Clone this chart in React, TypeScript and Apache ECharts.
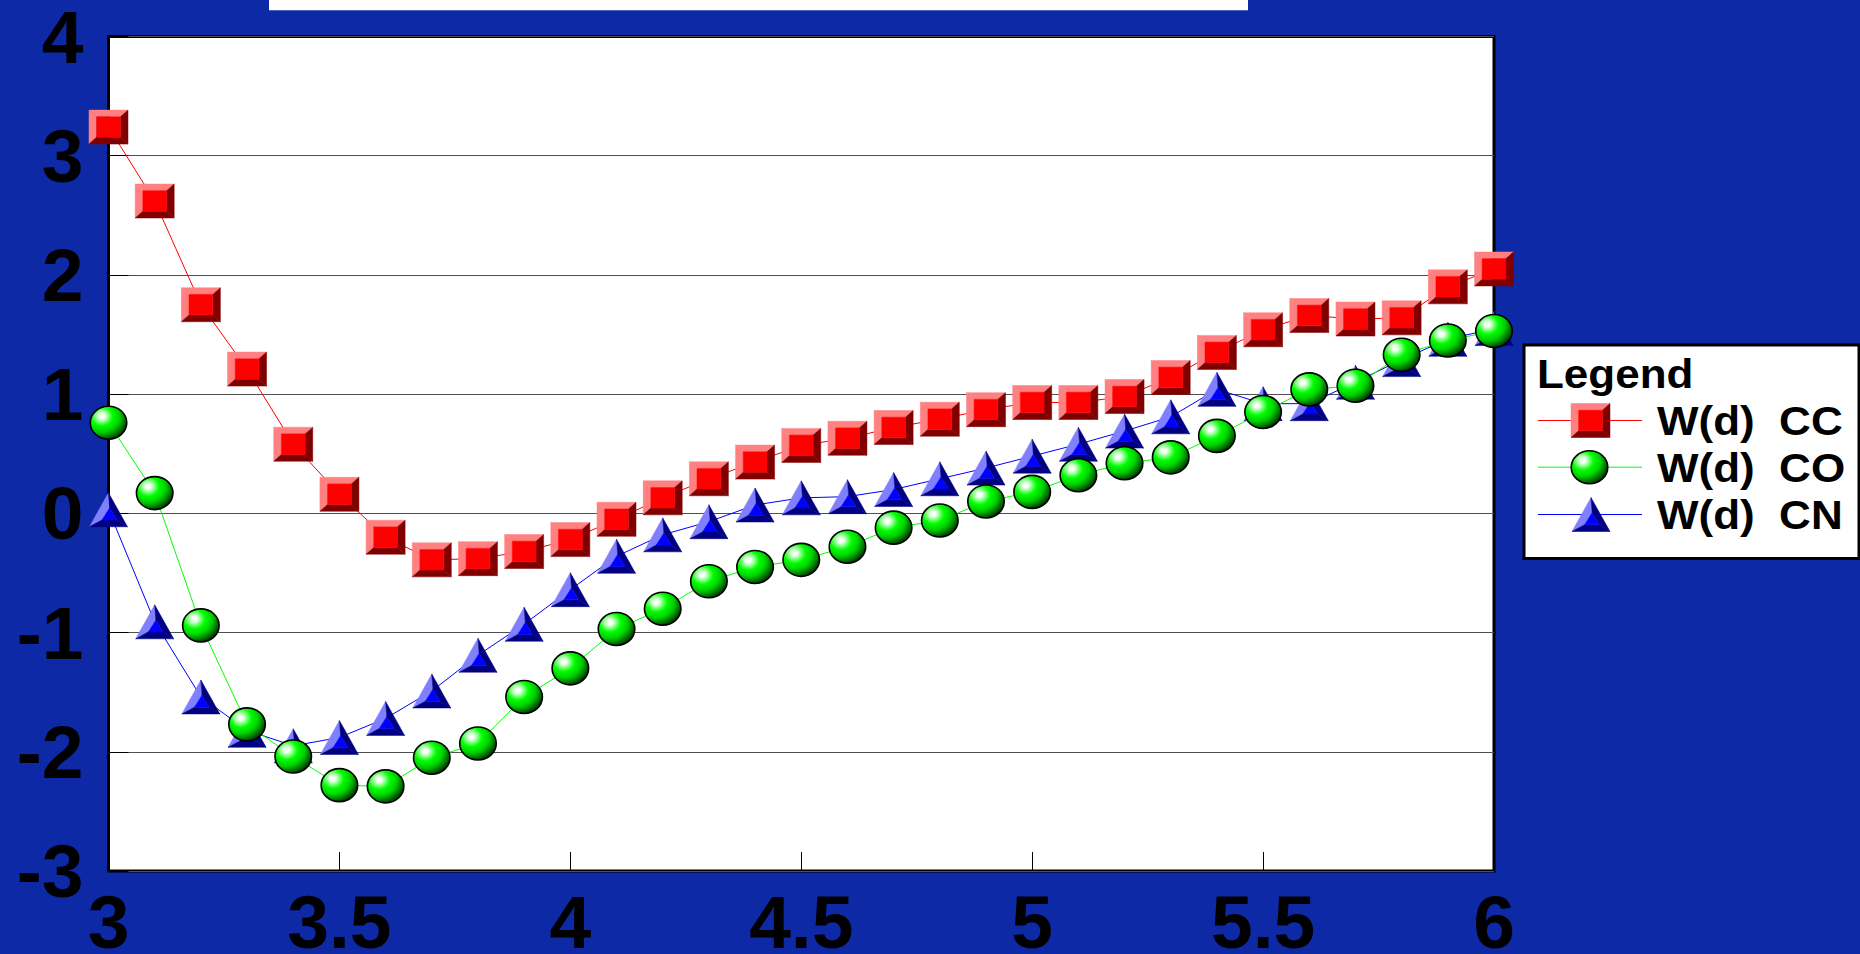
import React, { useEffect, useRef } from "react";
import * as echarts from "echarts";

// ---- data ----
const X_VALUES = [3.0, 3.1, 3.2, 3.3, 3.4, 3.5, 3.6, 3.7, 3.8, 3.9, 4.0, 4.1, 4.2, 4.3, 4.4, 4.5, 4.6, 4.7, 4.8, 4.9, 5.0, 5.1, 5.2, 5.3, 5.4, 5.5, 5.6, 5.7, 5.8, 5.9, 6.0];
const W_CC = [3.24, 2.62, 1.75, 1.21, 0.58, 0.16, -0.2, -0.39, -0.38, -0.32, -0.22, -0.05, 0.13, 0.29, 0.43, 0.57, 0.63, 0.72, 0.79, 0.87, 0.93, 0.93, 0.98, 1.14, 1.35, 1.54, 1.66, 1.63, 1.64, 1.9, 2.05];
const W_CO = [0.76, 0.17, -0.94, -1.77, -2.04, -2.28, -2.29, -2.05, -1.93, -1.54, -1.3, -0.97, -0.8, -0.57, -0.45, -0.39, -0.28, -0.12, -0.06, 0.1, 0.18, 0.32, 0.42, 0.47, 0.65, 0.85, 1.04, 1.07, 1.33, 1.45, 1.53];
const W_CN = [0.03, -0.91, -1.54, -1.82, -1.95, -1.88, -1.72, -1.49, -1.19, -0.93, -0.64, -0.36, -0.18, -0.07, 0.07, 0.13, 0.14, 0.2, 0.29, 0.38, 0.48, 0.58, 0.69, 0.81, 1.04, 0.92, 0.92, 1.1, 1.29, 1.46, 1.55];
const SERIES_NAMES = ["W(d)  CC", "W(d)  CO", "W(d)  CN"];
const LEGEND_TITLE = "Legend";
const X_MIN = 3, X_MAX = 6, X_STEP = 0.5;
const Y_MIN = -3, Y_MAX = 4, Y_STEP = 1;

// ---- styles ----
const BG = "#0d29a6";
const FONT = "'Liberation Sans', Arial, Helvetica, sans-serif";

type Pt = number[];
const poly = (points: Pt[], fill: string) => ({
  type: "polygon",
  shape: { points },
  style: { fill, stroke: fill, lineWidth: 0.5 },
});

function squareShapes(cx: number, cy: number, w = 39, h = 34) {
  const x0 = cx - w / 2, y0 = cy - h / 2;
  const P = (fx: number, fy: number) => [x0 + fx * w, y0 + fy * h];
  const i0 = 0.195, i1 = 0.805, j0 = 0.196, j1 = 0.8;
  return [
    poly([P(0, 0), P(1, 0), P(i1, j0), P(i0, j0)], "#ff8080"),
    poly([P(0, 0), P(i0, j0), P(i0, j1), P(0, 1)], "#ff8080"),
    poly([P(1, 0), P(1, 1), P(i1, j1), P(i1, j0)], "#800000"),
    poly([P(0, 1), P(i0, j1), P(i1, j1), P(1, 1)], "#800000"),
    poly([P(i0, j0), P(i1, j0), P(i1, j1), P(i0, j1)], "#ff0000"),
  ];
}

function triangleShapes(cx: number, cy: number, w = 38, h = 34) {
  const x0 = cx - w / 2, y0 = cy - h / 2;
  const P = (fx: number, fy: number) => [x0 + fx * w, y0 + fy * h];
  const A = P(0.5, 0), B = P(0, 1), C = P(1, 1);
  const a = P(0.53, 0.45), b = P(0.33, 0.8), c = P(0.72, 0.8);
  return [
    poly([A, B, b, a], "#8080ff"),
    poly([A, a, c, C], "#000080"),
    poly([B, C, c, b], "#000080"),
    poly([a, b, c], "#0000ff"),
  ];
}

function sphereShapes(cx: number, cy: number, w = 36.5, h = 33) {
  return [
    {
      type: "ellipse",
      shape: { cx, cy, rx: w / 2, ry: h / 2 },
      style: {
        fill: new echarts.graphic.RadialGradient(0.32, 0.3, 0.78, [
          { offset: 0, color: "#ffffff" },
          { offset: 0.1, color: "#f0fff0" },
          { offset: 0.38, color: "#00ff00" },
          { offset: 0.62, color: "#00d000" },
          { offset: 0.85, color: "#006800" },
          { offset: 1, color: "#002000" },
        ]),
        stroke: "#000000",
        lineWidth: 1.6,
      },
    },
  ];
}

const pairs = (ys: number[]) => X_VALUES.map((x, i) => [x, ys[i]]);

function lineSeries(name: string, ys: number[], color: string, z: number) {
  return {
    name,
    type: "line",
    data: pairs(ys),
    symbol: "none",
    lineStyle: { color, width: 1 },
    itemStyle: { color },
    z,
    silent: true,
  };
}

function markerSeries(name: string, ys: number[], shapeFn: (cx: number, cy: number) => any[], z: number) {
  return {
    name,
    type: "custom",
    data: pairs(ys),
    encode: { x: 0, y: 1 },
    clip: false,
    z,
    silent: true,
    renderItem: (params: any, api: any) => {
      const p = api.coord([api.value(0), api.value(1)]);
      return { type: "group", children: shapeFn(p[0], p[1]) };
    },
  };
}

function legendGraphics() {
  const rows = [
    { ty: 421, ly: 420.5, color: "#ff0000", shapes: squareShapes(1590.5, 420.5) },
    { ty: 468, ly: 467.2, color: "#00ff00", shapes: sphereShapes(1589.5, 467.2) },
    { ty: 515, ly: 514.5, color: "#0000ff", shapes: triangleShapes(1591, 514.5) },
  ];
  const textStyle = (text: string, fontSize: number) => ({
    text,
    fill: "#000",
    fontSize,
    fontWeight: "bold",
    fontFamily: FONT,
    align: "left",
    verticalAlign: "middle",
    textAlign: "left",
    textVerticalAlign: "middle",
  });
  const els: any[] = [
    { type: "rect", shape: { x: 269, y: 0, width: 979, height: 10 }, style: { fill: "#ffffff" }, z: 100 },
    { type: "rect", shape: { x: 269, y: 10, width: 979, height: 1 }, style: { fill: "#4660c4" }, z: 100 },
    {
      type: "rect",
      shape: { x: 1524, y: 345, width: 335, height: 213.5 },
      style: { fill: "#ffffff", stroke: "#000000", lineWidth: 3 },
      z: 100,
    },
    { type: "text", x: 1537, y: 374, scaleX: 1.1, style: textStyle(LEGEND_TITLE, 40), z: 101 },
  ];
  rows.forEach((r, i) => {
    els.push({
      type: "line",
      shape: { x1: 1538, y1: r.ly, x2: 1642, y2: r.ly },
      style: { stroke: r.color, lineWidth: 1 },
      z: 101,
    });
    r.shapes.forEach((s: any) => els.push({ ...s, z: 102 }));
    els.push({ type: "text", x: 1657, y: r.ty, scaleX: 1.1, style: textStyle(SERIES_NAMES[i], 40), z: 102 });
  });
  return els;
}

export default function App() {
  const ref = useRef<HTMLDivElement>(null);
  useEffect(() => {
    document.body.style.margin = "0";
    document.body.style.background = BG;
    if (!ref.current) return;
    const chart = echarts.init(ref.current, undefined, { renderer: "svg" });
    const labelStyle = { color: "#000", fontSize: 75, fontWeight: "bold" as const, fontFamily: FONT };
    chart.setOption({
      animation: false,
      backgroundColor: BG,
      grid: {
        left: 108.5,
        right: 366,
        top: 36.5,
        bottom: 83,
        show: true,
        backgroundColor: "#ffffff",
        borderColor: "#000000",
        borderWidth: 3,
        containLabel: false,
        outerBoundsMode: "none",
      },
      xAxis: {
        type: "value",
        min: X_MIN,
        max: X_MAX,
        interval: X_STEP,
        axisLine: { show: false, onZero: false },
        axisTick: { show: true, inside: true, length: 19, lineStyle: { color: "#000", width: 1 } },
        splitLine: { show: false },
        axisLabel: { ...labelStyle, margin: 13, formatter: (v: number) => String(v) },
      },
      yAxis: {
        type: "value",
        min: Y_MIN,
        max: Y_MAX,
        interval: Y_STEP,
        axisLine: { show: false, onZero: false },
        axisTick: { show: true, inside: true, length: 20, lineStyle: { color: "#000", width: 1 } },
        splitLine: { show: true, lineStyle: { color: "#505050", width: 1 } },
        axisLabel: { ...labelStyle, margin: 25, formatter: (v: number) => String(v) },
      },
      series: [
        lineSeries(SERIES_NAMES[2], W_CN, "#0000ff", 2),
        markerSeries(SERIES_NAMES[2] + " markers", W_CN, triangleShapes, 3),
        lineSeries(SERIES_NAMES[1], W_CO, "#00ff00", 4),
        markerSeries(SERIES_NAMES[1] + " markers", W_CO, sphereShapes, 5),
        lineSeries(SERIES_NAMES[0], W_CC, "#ff0000", 6),
        markerSeries(SERIES_NAMES[0] + " markers", W_CC, squareShapes, 7),
      ],
      graphic: legendGraphics(),
    });
    return () => chart.dispose();
  }, []);
  return <div ref={ref} style={{ position: "absolute", left: 0, top: 0, width: 1860, height: 954 }} />;
}
